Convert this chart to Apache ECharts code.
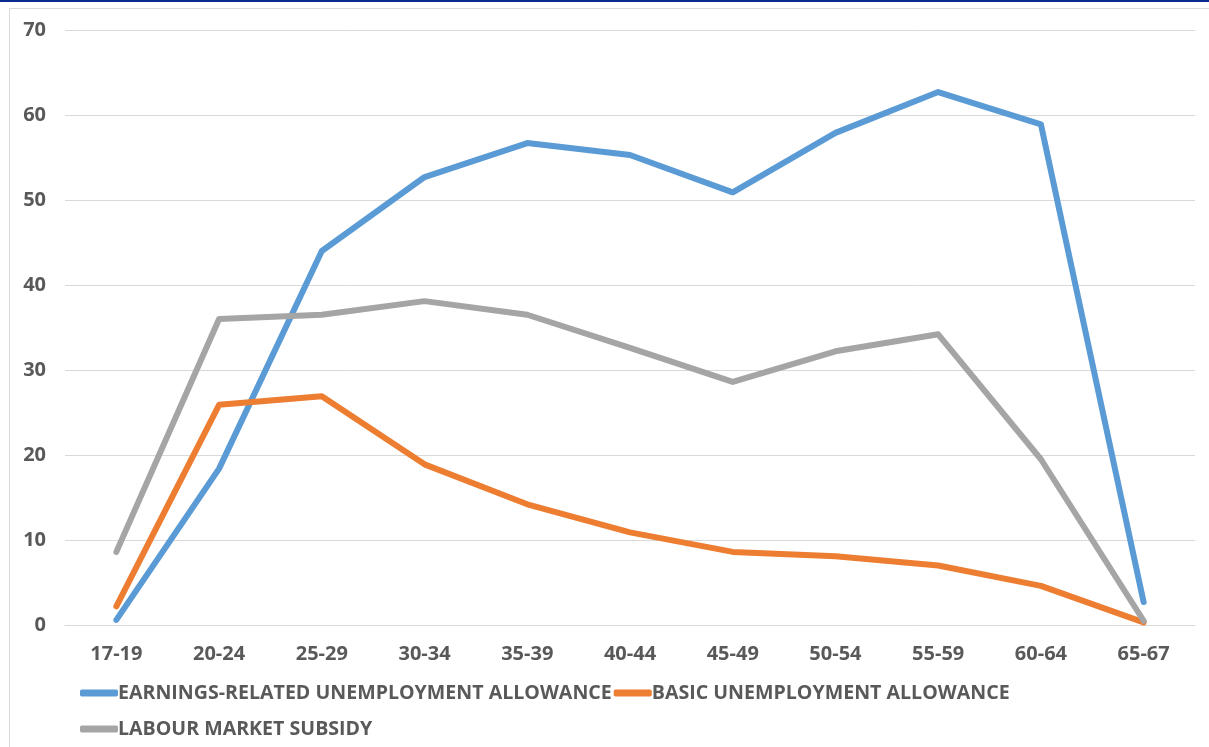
<!DOCTYPE html>
<html>
<head>
<meta charset="utf-8">
<script src="https://cdn.jsdelivr.net/npm/echarts@6/dist/echarts.min.js"></script>
<style>
html,body{margin:0;padding:0;background:#fff;}
#chart{width:1209px;height:747px;}
</style>
</head>
<body>
<div id="chart"></div>
<script>
const categories = ['17-19','20-24','25-29','30-34','35-39','40-44','45-49','50-54','55-59','60-64','65-67'];
const earningsRelated = [0.6, 18.4, 44.0, 52.7, 56.7, 55.3, 50.9, 57.9, 62.7, 58.9, 2.7];
const basicAllowance  = [2.2, 25.9, 26.9, 18.9, 14.2, 10.9, 8.6, 8.1, 7.0, 4.6, 0.3];
const labourSubsidy   = [8.6, 36.0, 36.5, 38.1, 36.5, 32.6, 28.6, 32.2, 34.2, 19.5, 0.5];
const seriesNames = ['EARNINGS-RELATED UNEMPLOYMENT ALLOWANCE','BASIC UNEMPLOYMENT ALLOWANCE','LABOUR MARKET SUBSIDY'];
const yTicks = {min: 0, max: 70, interval: 10};

const FONT = 'Open Sans';
const TXT = '#595959';
const chart = echarts.init(document.getElementById('chart'), null, {renderer: 'canvas'});
const mk = (name, data, color) => ({
  name, type: 'line', data, symbol: 'none', smooth: false,
  lineStyle: {color, width: 6, cap: 'round', join: 'round'},
  itemStyle: {color}
});
const legendCommon = {
  orient: 'horizontal', icon: 'roundRect', itemWidth: 38, itemHeight: 7, itemGap: 2,
  textStyle: {color: TXT, fontFamily: FONT, fontWeight: 'bold', fontSize: 19.6, padding: [0,0,0,-5]},
  padding: 0
};
chart.setOption({
  animation: false,
  backgroundColor: '#fff',
  grid: {left: 65, right: 14, top: 30, bottom: 122, containLabel: false},
  xAxis: {
    type: 'category', data: categories, boundaryGap: true,
    axisLine: {show: true, lineStyle: {color: '#d9d9d9', width: 1}},
    axisTick: {show: false},
    axisLabel: {color: TXT, fontFamily: FONT, fontWeight: 'bold', fontSize: 20, margin: 19}
  },
  yAxis: {
    type: 'value', min: yTicks.min, max: yTicks.max, interval: yTicks.interval,
    axisLine: {show: false}, axisTick: {show: false},
    splitLine: {lineStyle: {color: '#d9d9d9', width: 1}},
    axisLabel: {color: TXT, fontFamily: FONT, fontWeight: 'bold', fontSize: 20, margin: 19}
  },
  legend: [
    Object.assign({}, legendCommon, {data: [seriesNames[0], seriesNames[1]], left: 80, top: 683}),
    Object.assign({}, legendCommon, {data: [seriesNames[2]], left: 80, top: 719})
  ],
  graphic: [
    {type: 'rect', shape: {x: 0, y: 0, width: 1209, height: 2}, style: {fill: '#0b2a8f'}, silent: true},
    {type: 'line', shape: {x1: 9, y1: 8.5, x2: 1209, y2: 8.5}, style: {stroke: '#d9d9d9', lineWidth: 1}, silent: true},
    {type: 'line', shape: {x1: 9.5, y1: 8, x2: 9.5, y2: 747}, style: {stroke: '#d9d9d9', lineWidth: 1}, silent: true}
  ],
  series: [
    mk(seriesNames[0], earningsRelated, '#5B9BD5'),
    mk(seriesNames[1], basicAllowance, '#ED7D31'),
    mk(seriesNames[2], labourSubsidy, '#A5A5A5')
  ]
});
</script>
</body>
</html>
